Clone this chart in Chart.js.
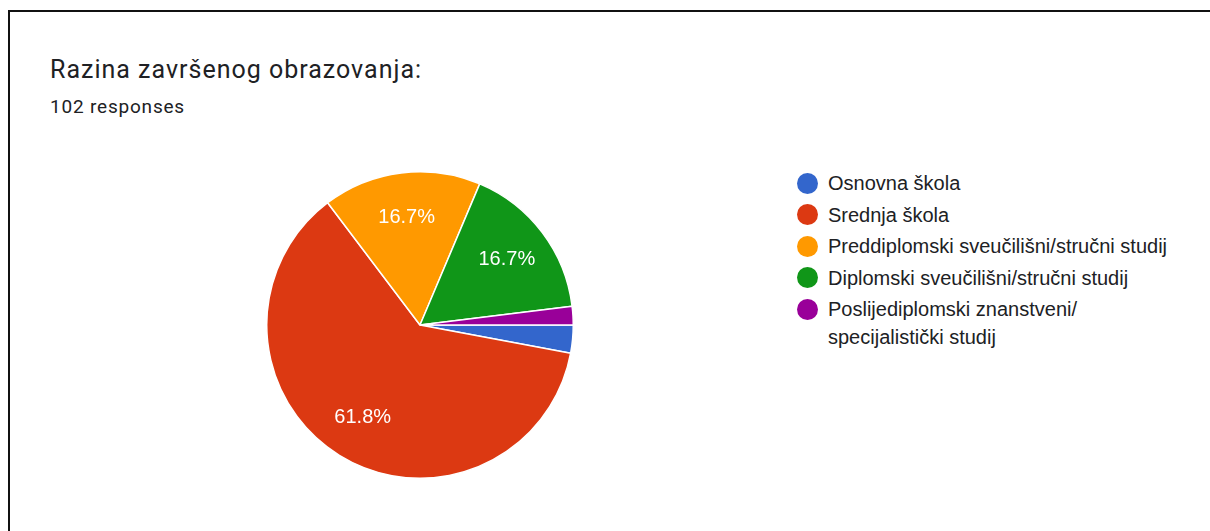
<!DOCTYPE html>
<html>
<head>
<meta charset="utf-8">
<script src="https://cdn.jsdelivr.net/npm/chart.js@4.4.1/dist/chart.umd.min.js"></script>
<style>
  html, body { margin: 0; padding: 0; background: #fff; }
  body { width: 1210px; height: 531px; position: relative; overflow: hidden; }
  #okvir {
    position: absolute; left: 8px; top: 10px; width: 1300px; height: 600px;
    border-left: 2px solid #111; border-top: 2px solid #111;
  }
  #naslov {
    position: absolute; left: 50px; top: 55px; margin: 0;
    font: 400 25px Roboto, sans-serif; letter-spacing: 1px; color: #202124;
  }
  #odgovori {
    position: absolute; left: 50px; top: 95px;
    font: 400 19px Roboto, sans-serif; letter-spacing: 0.8px; color: #202124;
  }
  #graf { position: absolute; left: 266px; top: 171px; }
  #legenda {
    position: absolute; left: 797px; top: 169px; width: 400px;
    font: 20px "Liberation Sans", Arial, sans-serif; color: #202124;
  }
  .stavka { display: flex; align-items: flex-start; margin-bottom: 3.5px; }
  .krug { width: 21px; height: 21px; border-radius: 50%; flex: none; margin-top: 3.5px; margin-right: 10px; }
  .tekst { line-height: 28px; max-width: 360px; }
</style>
</head>
<body>
<div id="okvir"></div>
<div id="naslov">Razina završenog obrazovanja:</div>
<div id="odgovori">102 responses</div>
<canvas id="graf" width="308" height="308"></canvas>
<div id="legenda"></div>

<script>
const kategorije = [
  "Osnovna škola",
  "Srednja škola",
  "Preddiplomski sveučilišni/stručni studij",
  "Diplomski sveučilišni/stručni studij",
  "Poslijediplomski znanstveni/specijalistički studij"
];
const odgovori = [3, 63, 17, 17, 2];
const boje = ["#3366cc", "#dc3912", "#ff9900", "#109618", "#990099"];

// postoci unutar kriški (samo za vece kriske)
const postociPlugin = {
  id: "postoci",
  afterDatasetsDraw(chart) {
    const ctx = chart.ctx;
    const meta = chart.getDatasetMeta(0);
    const ukupno = odgovori.reduce((a, b) => a + b, 0);
    ctx.save();
    ctx.fillStyle = "#fff";
    ctx.font = '20px "Liberation Sans", Arial, sans-serif';
    ctx.textAlign = "center";
    ctx.textBaseline = "middle";
    meta.data.forEach((luk, i) => {
      const udio = odgovori[i] / ukupno;
      if (udio < 0.05) return;
      const p = luk.getProps(["x", "y", "startAngle", "endAngle", "outerRadius"], true);
      const kut = (p.startAngle + p.endAngle) / 2;
      const r = p.outerRadius * 0.71;
      ctx.fillText((udio * 100).toFixed(1) + "%", p.x + Math.cos(kut) * r, p.y + Math.sin(kut) * r);
    });
    ctx.restore();
  }
};

const ctx = document.getElementById("graf").getContext("2d");
const chart = new Chart(ctx, {
  type: "pie",
  data: {
    labels: kategorije,
    datasets: [{
      data: odgovori,
      backgroundColor: boje,
      borderColor: "#ffffff",
      borderWidth: 1.5
    }]
  },
  options: {
    responsive: false,
    animation: false,
    rotation: 90,
    layout: { padding: 0 },
    plugins: {
      legend: { display: false },
      tooltip: { enabled: false }
    }
  },
  plugins: [postociPlugin]
});

// legenda u HTML-u (zadnja stavka se lomi iza "/")
const legenda = document.getElementById("legenda");
chart.data.labels.forEach((tekst, i) => {
  const stavka = document.createElement("div");
  stavka.className = "stavka";
  const krug = document.createElement("span");
  krug.className = "krug";
  krug.style.background = boje[i];
  const t = document.createElement("span");
  t.className = "tekst";
  tekst.split("/").forEach((dio, j, arr) => {
    t.appendChild(document.createTextNode(dio + (j < arr.length - 1 ? "/" : "")));
    if (j < arr.length - 1) t.appendChild(document.createElement("wbr"));
  });
  stavka.appendChild(krug);
  stavka.appendChild(t);
  legenda.appendChild(stavka);
});
</script>
</body>
</html>
